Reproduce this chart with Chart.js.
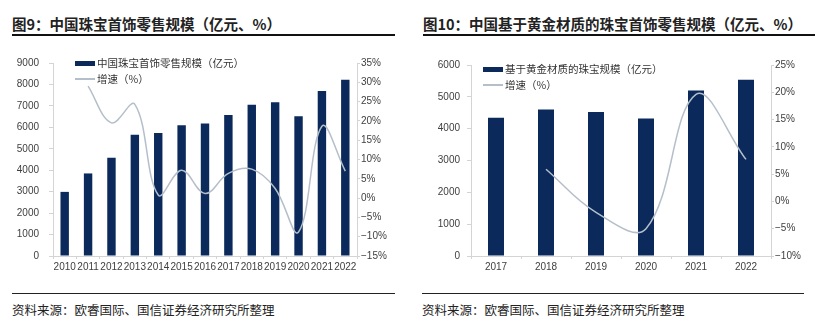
<!DOCTYPE html>
<html>
<head>
<meta charset="utf-8">
<script src="https://cdn.jsdelivr.net/npm/chart.js@4"></script>
<style>
  body { margin: 0; background: #fff; width: 817px; height: 324px; overflow: hidden; position: relative;
         font-family: "Noto Sans CJK SC", "Noto Sans", sans-serif; color: #222; }
  .title { position: absolute; top: 14px; font-size: 14.5px; font-weight: bold; white-space: nowrap; line-height: 20px; }
  .rule { position: absolute; height: 1.5px; background: #111; }
  .rule.thin { height: 1px; background: #222; }
  .source { position: absolute; top: 301px; font-size: 12.5px; white-space: nowrap; line-height: 18px; color: #222; }
  .chart-box { position: absolute; top: 40px; height: 240px; }
  .legend { position: absolute; font-size: 10.5px; color: #333; white-space: nowrap; line-height: 16px; }
  .legend .row { display: flex; align-items: center; height: 16px; }
  .legend .bar-sw { width: 20px; height: 5px; background: #0b2a5b; margin-right: 2px; }
  .legend .line-sw { width: 20px; height: 1.5px; background: #b5bfca; margin-right: 2px; }
</style>
</head>
<body>

<div class="title" style="left:12px">图9：中国珠宝首饰零售规模（亿元、%）</div>
<div class="rule" style="left:12px; top:34px; width:383px"></div>
<div class="title" style="left:423px">图10：中国基于黄金材质的珠宝首饰零售规模（亿元、%）</div>
<div class="rule" style="left:423px; top:34px; width:392px"></div>

<div class="chart-box" style="left:0; width:405px"><canvas id="chart1"></canvas></div>
<div class="chart-box" style="left:410px; width:407px"><canvas id="chart2"></canvas></div>

<div class="legend" style="left:75px; top:55px">
  <div class="row"><span class="bar-sw"></span>中国珠宝首饰零售规模（亿元）</div>
  <div class="row"><span class="line-sw"></span>增速（%）</div>
</div>
<div class="legend" style="left:483px; top:61px">
  <div class="row"><span class="bar-sw"></span>基于黄金材质的珠宝规模（亿元）</div>
  <div class="row"><span class="line-sw"></span>增速（%）</div>
</div>

<div class="rule thin" style="left:12px; top:293px; width:383px"></div>
<div class="source" style="left:12px">资料来源：欧睿国际、国信证券经济研究所整理</div>
<div class="rule thin" style="left:422px; top:293px; width:382px"></div>
<div class="source" style="left:422px">资料来源：欧睿国际、国信证券经济研究所整理</div>

<script>
// Figure 9: total jewellery retail (100m yuan) and growth (%)
const years1 = ['2010', '2011', '2012', '2013', '2014', '2015', '2016', '2017', '2018', '2019', '2020', '2021', '2022'];
const retail1 = [2990, 3850, 4580, 5650, 5740, 6100, 6180, 6580, 7050, 7170, 6520, 7700, 8220];
const growth1 = [null, 29.0, 19.5, 24.3, 0.8, 7.2, 1.2, 6.4, 7.5, 2.5, -8.8, 18.6, 7.0];

// Figure 10: gold-based jewellery retail and growth
const years2 = ['2017', '2018', '2019', '2020', '2021', '2022'];
const retail2 = [4340, 4600, 4520, 4320, 5200, 5540];
const growth2 = [null, 5.9, -2.0, -5.0, 19.6, 7.7];

const BAR_COLOR = '#0b2a5b';
const LINE_COLOR = '#b5bfca';
const AXIS_COLOR = '#d4d4d4';
const TICK_FONT = { family: '"Liberation Sans", Arial, sans-serif', size: 10 };

Chart.defaults.color = '#404040';
Chart.defaults.animation = false;

function buildChart(id, cfg) {
    const ctx = document.getElementById(id).getContext('2d');
    return new Chart(ctx, {
        type: 'bar',
        data: {
            labels: cfg.labels,
            datasets: [
                {
                    type: 'line',
                    data: cfg.growth,
                    yAxisID: 'y1',
                    borderColor: LINE_COLOR,
                    borderWidth: 1.5,
                    pointRadius: 0,
                    tension: 0.38,
                    spanGaps: false,
                    order: 0
                },
                {
                    data: cfg.retail,
                    backgroundColor: BAR_COLOR,
                    barPercentage: cfg.barPct,
                    categoryPercentage: 1,
                    order: 1
                }
            ]
        },
        options: {
            responsive: true,
            maintainAspectRatio: false,
            layout: { padding: { left: 0, right: 0, top: cfg.padTop, bottom: 0 } },
            plugins: { legend: { display: false }, tooltip: { enabled: false } },
            scales: {
                x: {
                    grid: { drawOnChartArea: false, color: AXIS_COLOR, tickLength: 3 },
                    border: { color: AXIS_COLOR },
                    ticks: { font: TICK_FONT, padding: 2, maxRotation: 0, autoSkip: false },
                    afterFit: s => { s.height = 24; }
                },
                y: {
                    position: 'left',
                    min: 0,
                    max: cfg.yMax,
                    grid: { drawOnChartArea: false, color: AXIS_COLOR, tickLength: 4 },
                    border: { color: AXIS_COLOR },
                    ticks: { stepSize: 1000, font: TICK_FONT, padding: cfg.leftPad,
                             callback: v => String(v) },
                    afterFit: s => { s.width = cfg.leftW; }
                },
                y1: {
                    position: 'right',
                    min: cfg.gMin,
                    max: cfg.gMax,
                    grid: { drawOnChartArea: false, color: AXIS_COLOR, tickLength: 3 },
                    border: { color: AXIS_COLOR },
                    ticks: { stepSize: 5, font: TICK_FONT, padding: 1,
                             callback: v => (v < 0 ? '\u2212' + Math.abs(v) : v) + '%' },
                    afterFit: s => { s.width = cfg.rightW; }
                }
            }
        }
    });
}

buildChart('chart1', {
    labels: years1, retail: retail1, growth: growth1,
    yMax: 9000, gMin: -15, gMax: 35,
    barPct: 0.36, padTop: 23, leftW: 53, rightW: 48, leftPad: 10
});

buildChart('chart2', {
    labels: years2, retail: retail2, growth: growth2,
    yMax: 6000, gMin: -10, gMax: 25,
    barPct: 0.32, padTop: 25, leftW: 61, rightW: 46, leftPad: 7
});
</script>
</body>
</html>
